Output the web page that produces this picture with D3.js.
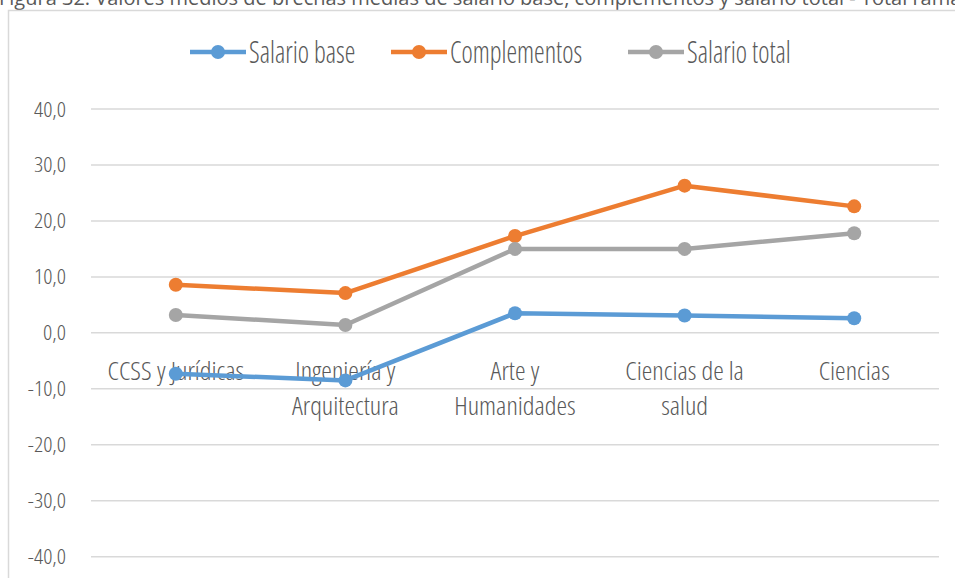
<!DOCTYPE html>
<html>
<head>
<meta charset="utf-8">
<script src="https://cdn.jsdelivr.net/npm/d3@7"></script>
<style>
  html, body { margin: 0; padding: 0; background: #fff; overflow: hidden; }
  svg { display: block; }
  .cond { font-family: "Open Sans", sans-serif; font-stretch: 75%; font-weight: 300; fill: #595959; }
  .title { font-family: "Open Sans", sans-serif; font-weight: 400; fill: #595959; }
</style>
</head>
<body>
<script>
const titleText = "Figura 32. Valores medios de brechas medias de salario base, complementos y salario total - Total rama";
const categories = [["CCSS y Jurídicas"], ["Ingeniería y", "Arquitectura"], ["Arte y", "Humanidades"], ["Ciencias de la", "salud"], ["Ciencias"]];
const seriesNames = ["Salario base", "Complementos", "Salario total"];
const seriesColors = ["#5B9BD5", "#ED7D31", "#A5A5A5"];
const salarioBase = [-7.3, -8.5, 3.5, 3.1, 2.6];
const complementos = [8.6, 7.1, 17.3, 26.3, 22.6];
const salarioTotal = [3.2, 1.4, 15.0, 15.0, 17.8];
const yTicks = [-40, -30, -20, -10, 0, 10, 20, 30, 40];

const W = 955, H = 578;
const svg = d3.select("body").append("svg").attr("width", W).attr("height", H);

// helper: condensed text with horizontal scale
function condText(parent, str, x0, y0, size, sx, anchor) {
  return parent.append("text").attr("class", "cond")
    .attr("font-size", size).attr("text-anchor", anchor || "start")
    .attr("transform", `translate(${x0},${y0}) scale(${sx},1)`)
    .text(str);
}

// title (clipped at top, as in the reference)
svg.append("text").attr("class", "title").attr("x", -1).attr("y", 5)
  .attr("font-size", 20).text(titleText);

// chart border
svg.append("rect").attr("x", 8.5).attr("y", 10.5).attr("width", 1000).attr("height", 1000)
  .attr("fill", "#fff").attr("stroke", "#D9D9D9").attr("stroke-width", 1.5);

const catKeys = categories.map(c => c.join(" "));
const x = d3.scaleBand().domain(catKeys).range([91, 939]);
const y = d3.scaleLinear().domain([-40, 40]).range([556.7, 109]);
const cx = k => x(k) + x.bandwidth() / 2;

// grid
svg.append("g").selectAll("line").data(yTicks).join("line")
  .attr("x1", 91).attr("x2", 939)
  .attr("y1", d => y(d)).attr("y2", d => y(d))
  .attr("stroke", "#D9D9D9").attr("stroke-width", 1.5);

// y tick labels
const fmt = d => d3.format(".1f")(d).replace(".", ",").replace("−", "-");
const tickG = svg.append("g");
yTicks.forEach(d => {
  condText(tickG, fmt(d), 66, y(d) + 7.5, 21, 1.08, "end");
});

// category labels
const catG = svg.append("g");
categories.forEach((lines, i) => {
  lines.forEach((ln, j) => {
    condText(catG, ln, cx(catKeys[i]), y(0) + 47.5 + j * 35, 25, 1.07, "middle");
  });
});

// series
const seriesData = [salarioBase, complementos, salarioTotal];
const line = d3.line().x((d, i) => cx(catKeys[i])).y(d => y(d));
seriesData.forEach((vals, s) => {
  const g = svg.append("g");
  g.append("path").datum(vals).attr("d", line).attr("fill", "none")
    .attr("stroke", seriesColors[s]).attr("stroke-width", 4.5).attr("stroke-linejoin", "round");
  g.selectAll("circle").data(vals).join("circle")
    .attr("cx", (d, i) => cx(catKeys[i])).attr("cy", d => y(d)).attr("r", 7)
    .attr("fill", seriesColors[s]);
});

// legend
const legendX = [190, 391, 628];
const lg = svg.append("g");
seriesNames.forEach((n, i) => {
  const x0 = legendX[i];
  lg.append("line").attr("x1", x0).attr("x2", x0 + 56).attr("y1", 52).attr("y2", 52)
    .attr("stroke", seriesColors[i]).attr("stroke-width", 4.5);
  lg.append("circle").attr("cx", x0 + 28).attr("cy", 52).attr("r", 7).attr("fill", seriesColors[i]);
  condText(lg, n, x0 + 59, 63.3, 30.5, 0.88, "start");
});
</script>
</body>
</html>
